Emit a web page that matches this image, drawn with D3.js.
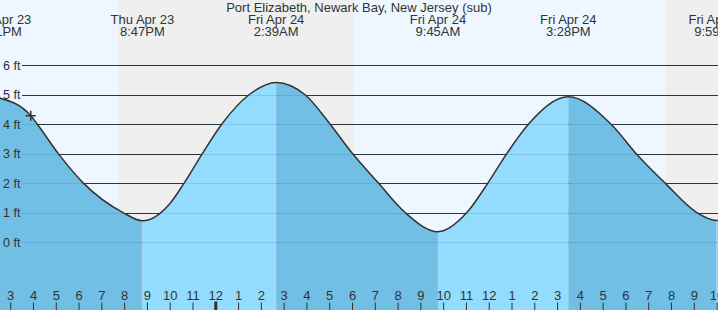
<!DOCTYPE html>
<html>
<head>
<meta charset="utf-8">
<script src="https://cdn.jsdelivr.net/npm/d3@7"></script>
<style>
  html, body { margin: 0; padding: 0; background: #fff; }
  svg { display: block; font-family: "Liberation Sans", Arial, sans-serif; }
</style>
</head>
<body>
<div id="chart"></div>
<script>
// hours are counted from midnight, Fri Apr 24
const title = 'Port Elizabeth, Newark Bay, New Jersey (sub)';

// tide curve (hour, feet)
const tideHours = [-9.49, -8.12, -7.83, -6.91, -5.81, -4.07, -3.22, -2.01, -1.39, -0.59, 0.26, 1.46, 2.65,
  3.92, 5.02, 5.90, 7.14, 8.31, 9.75, 11.02, 11.94, 12.77, 13.72, 15.47, 17.35, 18.45, 19.72, 21.11, 21.98, 22.6];
const tideFeet = [4.89, 4.29, 4.00, 3.00, 2.00, 1.00, 0.72, 1.31, 2.00, 3.00, 4.00, 5.00, 5.42,
  5.00, 4.00, 3.10, 2.00, 1.00, 0.35, 1.00, 2.00, 3.00, 4.00, 4.93, 4.00, 3.00, 2.00, 1.00, 0.73, 0.78];

// high / low tides
const extremaHours = [-9.49, -3.22, 2.65, 9.75, 15.47, 21.98];
const extremaType = ['H', 'L', 'H', 'L', 'H', 'L'];
const extremaDay = ['Thu Apr 23', 'Thu Apr 23', 'Fri Apr 24', 'Fri Apr 24', 'Fri Apr 24', 'Fri Apr 24'];
const extremaClock = ['2:31PM', '8:47PM', '2:39AM', '9:45AM', '3:28PM', '9:59PM'];

// night (sunset -> sunrise)
const nightStart = [-4.29, 19.72];
const nightEnd = [6.07, 30];

const feetTicks = [0, 1, 2, 3, 4, 5, 6];
const hourTicks = d3.range(-9, 23);
const hourLabels = hourTicks.map(h => String(((h % 12) + 12) % 12 || 12));

// current position marker
const nowHour = -8.12;
const nowFeet = 4.29;

const width = 718, height = 310;

const svg = d3.select('#chart').append('svg')
  .attr('width', width)
  .attr('height', height);

const x = d3.scaleLinear().domain([-9.47, 22.04]).range([0, width]);
const y = d3.scaleLinear().domain([0, 6]).range([242, 65.3]);
const crisp = v => Math.round(v) + 0.5;

// day background + night bands
svg.append('rect')
  .attr('width', width).attr('height', height)
  .attr('fill', '#eef7ff');

svg.append('g').selectAll('rect')
  .data(nightStart)
  .enter().append('rect')
  .attr('x', d => x(d))
  .attr('y', 0)
  .attr('width', (d, i) => x(nightEnd[i]) - x(d))
  .attr('height', height)
  .attr('fill', '#efefef');

// grid lines (dark, above the water)
svg.append('g').selectAll('line')
  .data(feetTicks)
  .enter().append('line')
  .attr('x1', 22).attr('x2', width)
  .attr('y1', d => crisp(y(d))).attr('y2', d => crisp(y(d)))
  .attr('stroke', '#333')
  .attr('stroke-width', 1);

const points = tideHours.map((h, i) => [h, tideFeet[i]]);

const area = d3.area()
  .x(d => x(d[0]))
  .y0(height)
  .y1(d => y(d[1]))
  .curve(d3.curveMonotoneX);

const line = d3.line()
  .x(d => x(d[0]))
  .y(d => y(d[1]))
  .curve(d3.curveMonotoneX);

// water fill, darker while falling, lighter while rising
const defs = svg.append('defs');
const bounds = [-20].concat(extremaHours, [40]);
const segTypes = ['L'].concat(extremaType);

bounds.slice(0, -1).forEach((b, i) => {
  const id = 'seg' + i;
  defs.append('clipPath').attr('id', id)
    .append('rect')
    .attr('x', x(b))
    .attr('y', 0)
    .attr('width', x(bounds[i + 1]) - x(b))
    .attr('height', height);

  svg.append('path')
    .datum(points)
    .attr('clip-path', 'url(#' + id + ')')
    .attr('d', area)
    .attr('fill', segTypes[i] === 'H' ? '#71bfe4' : '#93dcfd');
});

// grid lines seen through the water
svg.append('g').selectAll('line')
  .data(feetTicks)
  .enter().append('line')
  .attr('x1', 22).attr('x2', width)
  .attr('y1', d => crisp(y(d))).attr('y2', d => crisp(y(d)))
  .attr('stroke', 'rgba(0,70,120,0.14)')
  .attr('stroke-width', 1);

svg.append('path')
  .datum(points)
  .attr('d', line)
  .attr('fill', 'none')
  .attr('stroke', '#333')
  .attr('stroke-width', 1.5);

// "+" marker
const mx = x(nowHour), my = y(nowFeet);
svg.append('path')
  .attr('d', `M${mx - 5},${my}H${mx + 5}M${mx},${my - 5}V${my + 5}`)
  .attr('stroke', '#333')
  .attr('stroke-width', 1.5);

// feet labels
svg.append('g').selectAll('text')
  .data(feetTicks)
  .enter().append('text')
  .attr('x', 3)
  .attr('y', d => y(d) + 4.5)
  .attr('font-size', 12.5)
  .attr('fill', '#333')
  .text(d => d + ' ft');

// hour axis
const hours = svg.append('g');
hours.selectAll('line')
  .data(hourTicks)
  .enter().append('line')
  .attr('x1', d => x(d)).attr('x2', d => x(d))
  .attr('y1', d => d === 0 ? 301.5 : 302.5)
  .attr('y2', height)
  .attr('stroke', '#333')
  .attr('stroke-width', d => d === 0 ? 3 : 1);

hours.selectAll('text')
  .data(hourTicks)
  .enter().append('text')
  .attr('x', d => x(d))
  .attr('y', 300)
  .attr('text-anchor', 'middle')
  .attr('font-size', 13)
  .attr('fill', '#333')
  .text((d, i) => hourLabels[i]);

// high / low labels
const labels = svg.append('g')
  .attr('text-anchor', 'middle')
  .attr('font-size', 13)
  .attr('fill', '#333');

labels.selectAll('text.day')
  .data(extremaHours)
  .enter().append('text')
  .attr('class', 'day')
  .attr('x', d => x(d))
  .attr('y', 24)
  .text((d, i) => extremaDay[i]);

labels.selectAll('text.clock')
  .data(extremaHours)
  .enter().append('text')
  .attr('class', 'clock')
  .attr('x', d => x(d))
  .attr('y', 36)
  .text((d, i) => extremaClock[i]);

svg.append('text')
  .attr('x', width / 2)
  .attr('y', 12)
  .attr('text-anchor', 'middle')
  .attr('font-size', 13)
  .attr('fill', '#333')
  .text(title);
</script>
</body>
</html>
